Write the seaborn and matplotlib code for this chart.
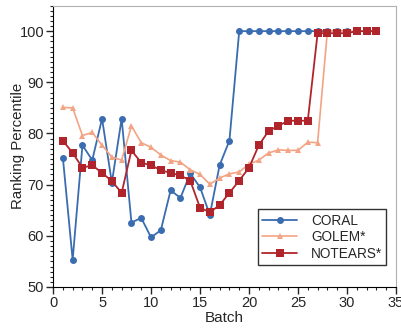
import matplotlib
matplotlib.use("Agg")
import matplotlib.pyplot as plt
import seaborn as sns
import pandas as pd
from matplotlib.ticker import MultipleLocator

coral_x = list(range(1, 31))
coral_y = [75.3, 55.3, 77.7, 74.8, 82.9, 70.4, 82.9, 62.6, 63.5, 59.7,
           61.1, 68.9, 67.4, 72.2, 69.5, 64.1, 73.8, 78.6, 100, 100,
           100, 100, 100, 100, 100, 100, 100, 100, 100, 100]

golem_x = list(range(1, 34))
golem_y = [85.1, 85.0, 79.6, 80.2, 77.7, 75.4, 74.8, 81.5, 78.2, 77.3,
           75.8, 74.7, 74.4, 72.9, 72.0, 70.1, 71.3, 72.1, 72.5, 74.0,
           74.8, 76.2, 76.8, 76.7, 76.7, 78.3, 78.2, 100, 100, 100,
           100, 100, 100]

notears_x = list(range(1, 34))
notears_y = [78.6, 76.2, 73.3, 73.8, 72.3, 70.7, 68.4, 76.7, 74.3, 73.8,
             72.8, 72.3, 71.8, 70.8, 65.5, 64.6, 66.0, 68.4, 70.8, 73.3,
             77.7, 80.5, 81.5, 82.5, 82.5, 82.5, 99.6, 99.6, 99.6, 99.6,
             100, 100, 100]

sns.set_style("ticks")
plt.rcParams['font.family'] = ['Liberation Sans', 'DejaVu Sans']

fig = plt.figure(figsize=(4.02, 3.28), dpi=100)
ax = fig.add_axes([0.132, 0.125, 0.853, 0.858])

series = [
    ("CORAL", coral_x, coral_y, "#3a6cb0", "o", 5.0, 1.3),
    ("GOLEM*", golem_x, golem_y, "#f2a484", "^", 3.8, 1.2),
    ("NOTEARS*", notears_x, notears_y, "#b0252b", "s", 5.2, 1.3),
]
for name, xs, ys, col, mk, ms, lw in series:
    df = pd.DataFrame({"Batch": xs, "val": ys})
    sns.lineplot(data=df, x="Batch", y="val", ax=ax, color=col, marker=mk,
                 markersize=ms, linewidth=lw, markeredgewidth=0,
                 label=name)

ax.set_xlim(0, 35)
ax.set_ylim(50, 105)
ax.xaxis.set_major_locator(MultipleLocator(5))
ax.xaxis.set_minor_locator(MultipleLocator(1))
ax.yaxis.set_major_locator(MultipleLocator(10))
ax.yaxis.set_minor_locator(MultipleLocator(1))
ax.tick_params(which='major', direction='out', length=5, width=1, labelsize=10.5, pad=1.5)
ax.tick_params(which='minor', direction='out', length=2.5, width=0.8)
ax.set_xlabel("Batch", fontsize=11, labelpad=1)
ax.set_ylabel("Ranking Percentile", fontsize=10.8)
ax.yaxis.set_label_coords(-0.082, 0.5)

for s in ["top", "right"]:
    ax.spines[s].set_visible(True)
    ax.spines[s].set_color("#b0b0b0")
for s in ["left", "bottom"]:
    ax.spines[s].set_color("black")

leg = ax.legend(loc="lower right", bbox_to_anchor=(0.972, 0.078), fontsize=9.8,
                frameon=True, fancybox=False, edgecolor="black",
                handlelength=2.6, borderpad=0.3, labelspacing=0.2,
                handletextpad=1.0, borderaxespad=0)
leg.get_frame().set_linewidth(1.0)

fig.savefig("out.png", dpi=100)
